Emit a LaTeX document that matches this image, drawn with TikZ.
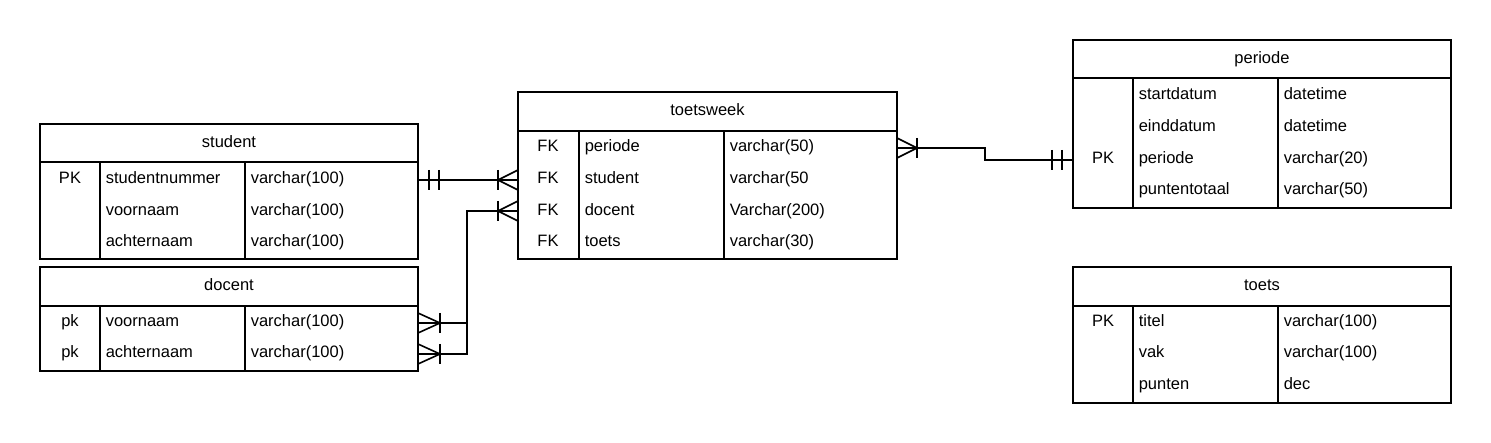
\documentclass[tikz,border=0pt]{standalone}
\usepackage{fontspec}
\setmainfont{Liberation Sans}
\begin{document}
\begin{tikzpicture}[x=1pt,y=-1pt,line width=1.6pt,
  tbl/.style={draw,line width=1.6pt,anchor=north west,inner sep=0pt,outer sep=0pt},
  txt/.style={font=\fontsize{16.5}{19}\selectfont,inner sep=0pt,anchor=base west,yshift=-6pt},
  key/.style={font=\fontsize{16.5}{19}\selectfont,inner sep=0pt,anchor=base,yshift=-6pt},
  hdr/.style={font=\fontsize{16.5}{19}\selectfont,inner sep=0pt,anchor=base,yshift=-6pt},
  conn/.style={line width=1.6pt}]
\useasboundingbox (0,0) rectangle (1491,443);

% ---------- student ----------
\node[tbl,minimum width=378pt,minimum height=135pt] (student) at (40,124) {};
\draw (student.west |- 0,162) -- (student.east |- 0,162);
\draw (100,162) -- (100,259);
\draw (245,162) -- (245,259);
\node[hdr] (studentH) at (229,142) {student};
\node[key] (sk1) at (70,178) {PK};
\node[txt] (sn1) at (105,178) {studentnummer};
\node[txt] (st1) at (250,178) {varchar(100)};
\node[txt] (sn2) at (105,210) {voornaam};
\node[txt] (st2) at (250,210) {varchar(100)};
\node[txt] (sn3) at (105,241) {achternaam};
\node[txt] (st3) at (250,241) {varchar(100)};

% ---------- docent ----------
\node[tbl,minimum width=378pt,minimum height=104pt] (docent) at (40,267) {};
\draw (docent.west |- 0,306) -- (docent.east |- 0,306);
\draw (100,306) -- (100,371);
\draw (245,306) -- (245,371);
\node[hdr] (docentH) at (229,285) {docent};
\node[key] (dk1) at (70,321) {pk};
\node[txt] (dn1) at (105,321) {voornaam};
\node[txt] (dt1) at (250,321) {varchar(100)};
\node[key] (dk2) at (70,352) {pk};
\node[txt] (dn2) at (105,352) {achternaam};
\node[txt] (dt2) at (250,352) {varchar(100)};

% ---------- toetsweek ----------
\node[tbl,minimum width=379pt,minimum height=167pt] (toetsweek) at (518,92) {};
\draw (toetsweek.west |- 0,131) -- (toetsweek.east |- 0,131);
\draw (579,131) -- (579,259);
\draw (724,131) -- (724,259);
\node[hdr] (toetsweekH) at (707.5,110) {toetsweek};
\node[key] (wk1) at (548,146) {FK};
\node[txt] (wn1) at (584,146) {periode};
\node[txt] (wt1) at (729,146) {varchar(50)};
\node[key] (wk2) at (548,178) {FK};
\node[txt] (wn2) at (584,178) {student};
\node[txt] (wt2) at (729,178) {varchar(50};
\node[key] (wk3) at (548,210) {FK};
\node[txt] (wn3) at (584,210) {docent};
\node[txt] (wt3) at (729,210) {Varchar(200)};
\node[key] (wk4) at (548,241) {FK};
\node[txt] (wn4) at (584,241) {toets};
\node[txt] (wt4) at (729,241) {varchar(30)};

% ---------- periode ----------
\node[tbl,minimum width=378pt,minimum height=168pt] (periode) at (1073,40) {};
\draw (periode.west |- 0,78) -- (periode.east |- 0,78);
\draw (1133,78) -- (1133,208);
\draw (1278,78) -- (1278,208);
\node[hdr] (periodeH) at (1262,58) {periode};
\node[txt] (pn1) at (1138,94) {startdatum};
\node[txt] (pt1) at (1283,94) {datetime};
\node[txt] (pn2) at (1138,126) {einddatum};
\node[txt] (pt2) at (1283,126) {datetime};
\node[key] (pk3) at (1103,158) {PK};
\node[txt] (pn3) at (1138,158) {periode};
\node[txt] (pt3) at (1283,158) {varchar(20)};
\node[txt] (pn4) at (1138,189) {puntentotaal};
\node[txt] (pt4) at (1283,189) {varchar(50)};

% ---------- toets ----------
\node[tbl,minimum width=378pt,minimum height=136pt] (toets) at (1073,267) {};
\draw (toets.west |- 0,306) -- (toets.east |- 0,306);
\draw (1133,306) -- (1133,403);
\draw (1278,306) -- (1278,403);
\node[hdr] (toetsH) at (1262,285) {toets};
\node[key] (tk1) at (1103,321) {PK};
\node[txt] (tn1) at (1138,321) {titel};
\node[txt] (tt1) at (1283,321) {varchar(100)};
\node[txt] (tn2) at (1138,352) {vak};
\node[txt] (tt2) at (1283,352) {varchar(100)};
\node[txt] (tn3) at (1138,384) {punten};
\node[txt] (tt3) at (1283,384) {dec};

% ---------- connectors ----------
% student -- toetsweek
\coordinate (a1) at (student.east |- 0,180);
\coordinate (a2) at (toetsweek.west |- 0,180);
\draw[conn] (a1) -- (a2);
\draw[conn] (429,170) -- (429,190);
\draw[conn] (439,170) -- (439,190);
\draw[conn] (518,170) -- (498,180) -- (518,190);
\draw[conn] (498,170) -- (498,190);

% docent -- toetsweek
\coordinate (b1) at (docent.east |- 0,323);
\coordinate (b2) at (docent.east |- 0,354);
\coordinate (b3) at (toetsweek.west |- 0,211);
\draw[conn] (b2) -- (467,354) -- (467,211) -- (b3);
\draw[conn] (b1) -- (467,323);
\draw[conn] (418,313) -- (440,323) -- (418,333);
\draw[conn] (440,313) -- (440,333);
\draw[conn] (418,344) -- (440,354) -- (418,364);
\draw[conn] (440,344) -- (440,364);
\draw[conn] (518,201) -- (498,211) -- (518,221);
\draw[conn] (498,201) -- (498,221);

% toetsweek -- periode
\coordinate (c1) at (toetsweek.east |- 0,148);
\coordinate (c2) at (periode.west |- 0,160);
\draw[conn] (c1) -- (985,148) -- (985,160) -- (c2);
\draw[conn] (897,138) -- (917,148) -- (897,158);
\draw[conn] (917,138) -- (917,158);
\draw[conn] (1052,150) -- (1052,170);
\draw[conn] (1062,150) -- (1062,170);
\end{tikzpicture}
\end{document}
